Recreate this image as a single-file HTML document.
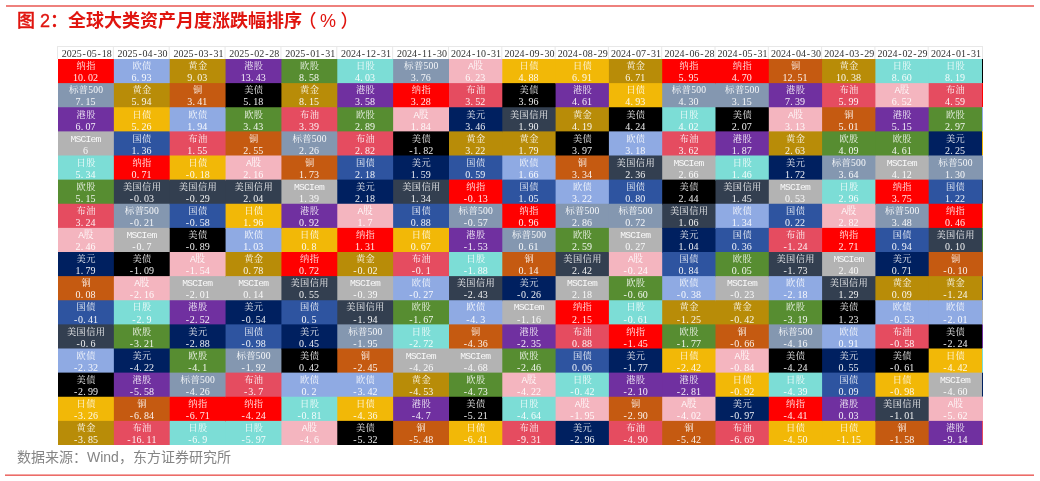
<!DOCTYPE html>
<html lang="zh"><head><meta charset="utf-8"><title>图 2：全球大类资产月度涨跌幅排序（%）</title>
<style>
html,body{margin:0;padding:0;background:#fff;}
body{width:1040px;height:481px;position:relative;overflow:hidden;font-family:"Liberation Sans","Noto Sans CJK SC",sans-serif;}
#title{position:absolute;left:17px;top:9px;height:24px;line-height:24px;font-size:18px;color:#e0150f;white-space:nowrap;font-weight:500;}
#title b{font-weight:700;}
#title .p0{-webkit-text-stroke:0.35px #e0150f;}
#title .p1{margin-left:-3.5px;margin-right:3.5px;}
#title .p2{margin-left:4.5px;}
#src{position:absolute;left:17px;top:447px;height:20px;line-height:20px;font-size:14px;color:#858585;white-space:nowrap;}
#bg{position:absolute;left:0;top:0;}
#bg text{font-family:"Liberation Serif","Noto Serif CJK SC",serif;font-size:10px;fill:#fff;fill-opacity:0.92;text-anchor:middle;}
#bg text.n{font-size:9.2px;}
#bg text.n5{font-size:9.6px;}
#bg text.m{font-family:"Liberation Mono","Noto Serif CJK SC",monospace;font-size:9.7px;}
#bg text.h{fill:#333;fill-opacity:1;}
</style></head><body>
<div id="title"><span class="p0">图 2：</span><b>全球大类资产月度涨跌幅排序</b><span class="p1">（</span>%<span class="p2">）</span></div>

<svg id="bg" width="1040" height="481" viewBox="0 0 1040 481">
<rect x="57" y="46" width="926" height="1" fill="#e8e8e8"/>
<rect x="57" y="46" width="1" height="13" fill="#e8e8e8"/>
<rect x="112.86" y="46" width="1" height="13" fill="#e8e8e8"/>
<rect x="168.71" y="46" width="1" height="13" fill="#e8e8e8"/>
<rect x="224.57" y="46" width="1" height="13" fill="#e8e8e8"/>
<rect x="280.43" y="46" width="1" height="13" fill="#e8e8e8"/>
<rect x="336.29" y="46" width="1" height="13" fill="#e8e8e8"/>
<rect x="392.14" y="46" width="1" height="13" fill="#e8e8e8"/>
<rect x="448.00" y="46" width="1" height="13" fill="#e8e8e8"/>
<rect x="501.30" y="46" width="1" height="13" fill="#e8e8e8"/>
<rect x="554.60" y="46" width="1" height="13" fill="#e8e8e8"/>
<rect x="607.90" y="46" width="1" height="13" fill="#e8e8e8"/>
<rect x="661.20" y="46" width="1" height="13" fill="#e8e8e8"/>
<rect x="714.50" y="46" width="1" height="13" fill="#e8e8e8"/>
<rect x="767.80" y="46" width="1" height="13" fill="#e8e8e8"/>
<rect x="821.10" y="46" width="1" height="13" fill="#e8e8e8"/>
<rect x="874.40" y="46" width="1" height="13" fill="#e8e8e8"/>
<rect x="927.70" y="46" width="1" height="13" fill="#e8e8e8"/>
<rect x="982.00" y="46" width="1" height="13" fill="#e8e8e8"/>
<rect x="58.00" y="59.00" width="56.86" height="25.12" fill="#FF0000"/>
<rect x="58.00" y="83.12" width="56.86" height="25.12" fill="#8497B0"/>
<rect x="58.00" y="107.25" width="56.86" height="25.12" fill="#7030A0"/>
<rect x="58.00" y="131.38" width="56.86" height="25.12" fill="#B3B3B3"/>
<rect x="58.00" y="155.50" width="56.86" height="25.12" fill="#7CDDD6"/>
<rect x="58.00" y="179.62" width="56.86" height="25.12" fill="#578D31"/>
<rect x="58.00" y="203.75" width="56.86" height="25.12" fill="#E54C60"/>
<rect x="58.00" y="227.88" width="56.86" height="25.12" fill="#F4B5BF"/>
<rect x="58.00" y="252.00" width="56.86" height="25.12" fill="#002060"/>
<rect x="58.00" y="276.12" width="56.86" height="25.12" fill="#C55A11"/>
<rect x="58.00" y="300.25" width="56.86" height="25.12" fill="#2E54A0"/>
<rect x="58.00" y="324.38" width="56.86" height="25.12" fill="#333F50"/>
<rect x="58.00" y="348.50" width="56.86" height="25.12" fill="#8FAAE3"/>
<rect x="58.00" y="372.62" width="56.86" height="25.12" fill="#000000"/>
<rect x="58.00" y="396.75" width="56.86" height="25.12" fill="#F2B807"/>
<rect x="58.00" y="420.88" width="56.86" height="24.12" fill="#B88C08"/>
<rect x="113.86" y="59.00" width="56.86" height="25.12" fill="#8FAAE3"/>
<rect x="113.86" y="83.12" width="56.86" height="25.12" fill="#B88C08"/>
<rect x="113.86" y="107.25" width="56.86" height="25.12" fill="#F2B807"/>
<rect x="113.86" y="131.38" width="56.86" height="25.12" fill="#2E54A0"/>
<rect x="113.86" y="155.50" width="56.86" height="25.12" fill="#FF0000"/>
<rect x="113.86" y="179.62" width="56.86" height="25.12" fill="#333F50"/>
<rect x="113.86" y="203.75" width="56.86" height="25.12" fill="#8497B0"/>
<rect x="113.86" y="227.88" width="56.86" height="25.12" fill="#B3B3B3"/>
<rect x="113.86" y="252.00" width="56.86" height="25.12" fill="#000000"/>
<rect x="113.86" y="276.12" width="56.86" height="25.12" fill="#F4B5BF"/>
<rect x="113.86" y="300.25" width="56.86" height="25.12" fill="#7CDDD6"/>
<rect x="113.86" y="324.38" width="56.86" height="25.12" fill="#578D31"/>
<rect x="113.86" y="348.50" width="56.86" height="25.12" fill="#002060"/>
<rect x="113.86" y="372.62" width="56.86" height="25.12" fill="#7030A0"/>
<rect x="113.86" y="396.75" width="56.86" height="25.12" fill="#C55A11"/>
<rect x="113.86" y="420.88" width="56.86" height="24.12" fill="#E54C60"/>
<rect x="169.71" y="59.00" width="56.86" height="25.12" fill="#B88C08"/>
<rect x="169.71" y="83.12" width="56.86" height="25.12" fill="#C55A11"/>
<rect x="169.71" y="107.25" width="56.86" height="25.12" fill="#8FAAE3"/>
<rect x="169.71" y="131.38" width="56.86" height="25.12" fill="#E54C60"/>
<rect x="169.71" y="155.50" width="56.86" height="25.12" fill="#F2B807"/>
<rect x="169.71" y="179.62" width="56.86" height="25.12" fill="#333F50"/>
<rect x="169.71" y="203.75" width="56.86" height="25.12" fill="#2E54A0"/>
<rect x="169.71" y="227.88" width="56.86" height="25.12" fill="#000000"/>
<rect x="169.71" y="252.00" width="56.86" height="25.12" fill="#F4B5BF"/>
<rect x="169.71" y="276.12" width="56.86" height="25.12" fill="#B3B3B3"/>
<rect x="169.71" y="300.25" width="56.86" height="25.12" fill="#7030A0"/>
<rect x="169.71" y="324.38" width="56.86" height="25.12" fill="#002060"/>
<rect x="169.71" y="348.50" width="56.86" height="25.12" fill="#578D31"/>
<rect x="169.71" y="372.62" width="56.86" height="25.12" fill="#8497B0"/>
<rect x="169.71" y="396.75" width="56.86" height="25.12" fill="#FF0000"/>
<rect x="169.71" y="420.88" width="56.86" height="24.12" fill="#7CDDD6"/>
<rect x="225.57" y="59.00" width="56.86" height="25.12" fill="#7030A0"/>
<rect x="225.57" y="83.12" width="56.86" height="25.12" fill="#000000"/>
<rect x="225.57" y="107.25" width="56.86" height="25.12" fill="#578D31"/>
<rect x="225.57" y="131.38" width="56.86" height="25.12" fill="#C55A11"/>
<rect x="225.57" y="155.50" width="56.86" height="25.12" fill="#F4B5BF"/>
<rect x="225.57" y="179.62" width="56.86" height="25.12" fill="#333F50"/>
<rect x="225.57" y="203.75" width="56.86" height="25.12" fill="#F2B807"/>
<rect x="225.57" y="227.88" width="56.86" height="25.12" fill="#8FAAE3"/>
<rect x="225.57" y="252.00" width="56.86" height="25.12" fill="#B88C08"/>
<rect x="225.57" y="276.12" width="56.86" height="25.12" fill="#B3B3B3"/>
<rect x="225.57" y="300.25" width="56.86" height="25.12" fill="#002060"/>
<rect x="225.57" y="324.38" width="56.86" height="25.12" fill="#2E54A0"/>
<rect x="225.57" y="348.50" width="56.86" height="25.12" fill="#8497B0"/>
<rect x="225.57" y="372.62" width="56.86" height="25.12" fill="#E54C60"/>
<rect x="225.57" y="396.75" width="56.86" height="25.12" fill="#FF0000"/>
<rect x="225.57" y="420.88" width="56.86" height="24.12" fill="#7CDDD6"/>
<rect x="281.43" y="59.00" width="56.86" height="25.12" fill="#578D31"/>
<rect x="281.43" y="83.12" width="56.86" height="25.12" fill="#B88C08"/>
<rect x="281.43" y="107.25" width="56.86" height="25.12" fill="#E54C60"/>
<rect x="281.43" y="131.38" width="56.86" height="25.12" fill="#8497B0"/>
<rect x="281.43" y="155.50" width="56.86" height="25.12" fill="#C55A11"/>
<rect x="281.43" y="179.62" width="56.86" height="25.12" fill="#B3B3B3"/>
<rect x="281.43" y="203.75" width="56.86" height="25.12" fill="#7030A0"/>
<rect x="281.43" y="227.88" width="56.86" height="25.12" fill="#F2B807"/>
<rect x="281.43" y="252.00" width="56.86" height="25.12" fill="#FF0000"/>
<rect x="281.43" y="276.12" width="56.86" height="25.12" fill="#333F50"/>
<rect x="281.43" y="300.25" width="56.86" height="25.12" fill="#2E54A0"/>
<rect x="281.43" y="324.38" width="56.86" height="25.12" fill="#002060"/>
<rect x="281.43" y="348.50" width="56.86" height="25.12" fill="#000000"/>
<rect x="281.43" y="372.62" width="56.86" height="25.12" fill="#8FAAE3"/>
<rect x="281.43" y="396.75" width="56.86" height="25.12" fill="#7CDDD6"/>
<rect x="281.43" y="420.88" width="56.86" height="24.12" fill="#F4B5BF"/>
<rect x="337.29" y="59.00" width="56.86" height="25.12" fill="#7CDDD6"/>
<rect x="337.29" y="83.12" width="56.86" height="25.12" fill="#7030A0"/>
<rect x="337.29" y="107.25" width="56.86" height="25.12" fill="#578D31"/>
<rect x="337.29" y="131.38" width="56.86" height="25.12" fill="#E54C60"/>
<rect x="337.29" y="155.50" width="56.86" height="25.12" fill="#2E54A0"/>
<rect x="337.29" y="179.62" width="56.86" height="25.12" fill="#002060"/>
<rect x="337.29" y="203.75" width="56.86" height="25.12" fill="#F4B5BF"/>
<rect x="337.29" y="227.88" width="56.86" height="25.12" fill="#FF0000"/>
<rect x="337.29" y="252.00" width="56.86" height="25.12" fill="#B88C08"/>
<rect x="337.29" y="276.12" width="56.86" height="25.12" fill="#B3B3B3"/>
<rect x="337.29" y="300.25" width="56.86" height="25.12" fill="#333F50"/>
<rect x="337.29" y="324.38" width="56.86" height="25.12" fill="#8497B0"/>
<rect x="337.29" y="348.50" width="56.86" height="25.12" fill="#C55A11"/>
<rect x="337.29" y="372.62" width="56.86" height="25.12" fill="#8FAAE3"/>
<rect x="337.29" y="396.75" width="56.86" height="25.12" fill="#F2B807"/>
<rect x="337.29" y="420.88" width="56.86" height="24.12" fill="#000000"/>
<rect x="393.14" y="59.00" width="56.86" height="25.12" fill="#8497B0"/>
<rect x="393.14" y="83.12" width="56.86" height="25.12" fill="#FF0000"/>
<rect x="393.14" y="107.25" width="56.86" height="25.12" fill="#F4B5BF"/>
<rect x="393.14" y="131.38" width="56.86" height="25.12" fill="#000000"/>
<rect x="393.14" y="155.50" width="56.86" height="25.12" fill="#002060"/>
<rect x="393.14" y="179.62" width="56.86" height="25.12" fill="#333F50"/>
<rect x="393.14" y="203.75" width="56.86" height="25.12" fill="#2E54A0"/>
<rect x="393.14" y="227.88" width="56.86" height="25.12" fill="#F2B807"/>
<rect x="393.14" y="252.00" width="56.86" height="25.12" fill="#E54C60"/>
<rect x="393.14" y="276.12" width="56.86" height="25.12" fill="#8FAAE3"/>
<rect x="393.14" y="300.25" width="56.86" height="25.12" fill="#578D31"/>
<rect x="393.14" y="324.38" width="56.86" height="25.12" fill="#7CDDD6"/>
<rect x="393.14" y="348.50" width="56.86" height="25.12" fill="#B3B3B3"/>
<rect x="393.14" y="372.62" width="56.86" height="25.12" fill="#B88C08"/>
<rect x="393.14" y="396.75" width="56.86" height="25.12" fill="#7030A0"/>
<rect x="393.14" y="420.88" width="56.86" height="24.12" fill="#C55A11"/>
<rect x="449.00" y="59.00" width="54.30" height="25.12" fill="#F4B5BF"/>
<rect x="449.00" y="83.12" width="54.30" height="25.12" fill="#E54C60"/>
<rect x="449.00" y="107.25" width="54.30" height="25.12" fill="#002060"/>
<rect x="449.00" y="131.38" width="54.30" height="25.12" fill="#B88C08"/>
<rect x="449.00" y="155.50" width="54.30" height="25.12" fill="#2E54A0"/>
<rect x="449.00" y="179.62" width="54.30" height="25.12" fill="#FF0000"/>
<rect x="449.00" y="203.75" width="54.30" height="25.12" fill="#8497B0"/>
<rect x="449.00" y="227.88" width="54.30" height="25.12" fill="#7030A0"/>
<rect x="449.00" y="252.00" width="54.30" height="25.12" fill="#7CDDD6"/>
<rect x="449.00" y="276.12" width="54.30" height="25.12" fill="#333F50"/>
<rect x="449.00" y="300.25" width="54.30" height="25.12" fill="#8FAAE3"/>
<rect x="449.00" y="324.38" width="54.30" height="25.12" fill="#C55A11"/>
<rect x="449.00" y="348.50" width="54.30" height="25.12" fill="#B3B3B3"/>
<rect x="449.00" y="372.62" width="54.30" height="25.12" fill="#578D31"/>
<rect x="449.00" y="396.75" width="54.30" height="25.12" fill="#000000"/>
<rect x="449.00" y="420.88" width="54.30" height="24.12" fill="#F2B807"/>
<rect x="502.30" y="59.00" width="54.30" height="25.12" fill="#F2B807"/>
<rect x="502.30" y="83.12" width="54.30" height="25.12" fill="#000000"/>
<rect x="502.30" y="107.25" width="54.30" height="25.12" fill="#333F50"/>
<rect x="502.30" y="131.38" width="54.30" height="25.12" fill="#B88C08"/>
<rect x="502.30" y="155.50" width="54.30" height="25.12" fill="#8FAAE3"/>
<rect x="502.30" y="179.62" width="54.30" height="25.12" fill="#2E54A0"/>
<rect x="502.30" y="203.75" width="54.30" height="25.12" fill="#FF0000"/>
<rect x="502.30" y="227.88" width="54.30" height="25.12" fill="#8497B0"/>
<rect x="502.30" y="252.00" width="54.30" height="25.12" fill="#C55A11"/>
<rect x="502.30" y="276.12" width="54.30" height="25.12" fill="#002060"/>
<rect x="502.30" y="300.25" width="54.30" height="25.12" fill="#B3B3B3"/>
<rect x="502.30" y="324.38" width="54.30" height="25.12" fill="#7030A0"/>
<rect x="502.30" y="348.50" width="54.30" height="25.12" fill="#578D31"/>
<rect x="502.30" y="372.62" width="54.30" height="25.12" fill="#F4B5BF"/>
<rect x="502.30" y="396.75" width="54.30" height="25.12" fill="#7CDDD6"/>
<rect x="502.30" y="420.88" width="54.30" height="24.12" fill="#E54C60"/>
<rect x="555.60" y="59.00" width="54.30" height="25.12" fill="#F2B807"/>
<rect x="555.60" y="83.12" width="54.30" height="25.12" fill="#7030A0"/>
<rect x="555.60" y="107.25" width="54.30" height="25.12" fill="#B88C08"/>
<rect x="555.60" y="131.38" width="54.30" height="25.12" fill="#000000"/>
<rect x="555.60" y="155.50" width="54.30" height="25.12" fill="#C55A11"/>
<rect x="555.60" y="179.62" width="54.30" height="25.12" fill="#8FAAE3"/>
<rect x="555.60" y="203.75" width="54.30" height="25.12" fill="#8497B0"/>
<rect x="555.60" y="227.88" width="54.30" height="25.12" fill="#578D31"/>
<rect x="555.60" y="252.00" width="54.30" height="25.12" fill="#333F50"/>
<rect x="555.60" y="276.12" width="54.30" height="25.12" fill="#B3B3B3"/>
<rect x="555.60" y="300.25" width="54.30" height="25.12" fill="#FF0000"/>
<rect x="555.60" y="324.38" width="54.30" height="25.12" fill="#E54C60"/>
<rect x="555.60" y="348.50" width="54.30" height="25.12" fill="#2E54A0"/>
<rect x="555.60" y="372.62" width="54.30" height="25.12" fill="#7CDDD6"/>
<rect x="555.60" y="396.75" width="54.30" height="25.12" fill="#F4B5BF"/>
<rect x="555.60" y="420.88" width="54.30" height="24.12" fill="#002060"/>
<rect x="608.90" y="59.00" width="54.30" height="25.12" fill="#B88C08"/>
<rect x="608.90" y="83.12" width="54.30" height="25.12" fill="#F2B807"/>
<rect x="608.90" y="107.25" width="54.30" height="25.12" fill="#000000"/>
<rect x="608.90" y="131.38" width="54.30" height="25.12" fill="#8FAAE3"/>
<rect x="608.90" y="155.50" width="54.30" height="25.12" fill="#333F50"/>
<rect x="608.90" y="179.62" width="54.30" height="25.12" fill="#2E54A0"/>
<rect x="608.90" y="203.75" width="54.30" height="25.12" fill="#8497B0"/>
<rect x="608.90" y="227.88" width="54.30" height="25.12" fill="#B3B3B3"/>
<rect x="608.90" y="252.00" width="54.30" height="25.12" fill="#F4B5BF"/>
<rect x="608.90" y="276.12" width="54.30" height="25.12" fill="#578D31"/>
<rect x="608.90" y="300.25" width="54.30" height="25.12" fill="#7CDDD6"/>
<rect x="608.90" y="324.38" width="54.30" height="25.12" fill="#FF0000"/>
<rect x="608.90" y="348.50" width="54.30" height="25.12" fill="#002060"/>
<rect x="608.90" y="372.62" width="54.30" height="25.12" fill="#7030A0"/>
<rect x="608.90" y="396.75" width="54.30" height="25.12" fill="#C55A11"/>
<rect x="608.90" y="420.88" width="54.30" height="24.12" fill="#E54C60"/>
<rect x="662.20" y="59.00" width="54.30" height="25.12" fill="#FF0000"/>
<rect x="662.20" y="83.12" width="54.30" height="25.12" fill="#8497B0"/>
<rect x="662.20" y="107.25" width="54.30" height="25.12" fill="#7CDDD6"/>
<rect x="662.20" y="131.38" width="54.30" height="25.12" fill="#E54C60"/>
<rect x="662.20" y="155.50" width="54.30" height="25.12" fill="#B3B3B3"/>
<rect x="662.20" y="179.62" width="54.30" height="25.12" fill="#000000"/>
<rect x="662.20" y="203.75" width="54.30" height="25.12" fill="#333F50"/>
<rect x="662.20" y="227.88" width="54.30" height="25.12" fill="#002060"/>
<rect x="662.20" y="252.00" width="54.30" height="25.12" fill="#2E54A0"/>
<rect x="662.20" y="276.12" width="54.30" height="25.12" fill="#8FAAE3"/>
<rect x="662.20" y="300.25" width="54.30" height="25.12" fill="#B88C08"/>
<rect x="662.20" y="324.38" width="54.30" height="25.12" fill="#578D31"/>
<rect x="662.20" y="348.50" width="54.30" height="25.12" fill="#F2B807"/>
<rect x="662.20" y="372.62" width="54.30" height="25.12" fill="#7030A0"/>
<rect x="662.20" y="396.75" width="54.30" height="25.12" fill="#F4B5BF"/>
<rect x="662.20" y="420.88" width="54.30" height="24.12" fill="#C55A11"/>
<rect x="715.50" y="59.00" width="54.30" height="25.12" fill="#FF0000"/>
<rect x="715.50" y="83.12" width="54.30" height="25.12" fill="#8497B0"/>
<rect x="715.50" y="107.25" width="54.30" height="25.12" fill="#000000"/>
<rect x="715.50" y="131.38" width="54.30" height="25.12" fill="#7030A0"/>
<rect x="715.50" y="155.50" width="54.30" height="25.12" fill="#7CDDD6"/>
<rect x="715.50" y="179.62" width="54.30" height="25.12" fill="#333F50"/>
<rect x="715.50" y="203.75" width="54.30" height="25.12" fill="#8FAAE3"/>
<rect x="715.50" y="227.88" width="54.30" height="25.12" fill="#2E54A0"/>
<rect x="715.50" y="252.00" width="54.30" height="25.12" fill="#578D31"/>
<rect x="715.50" y="276.12" width="54.30" height="25.12" fill="#B3B3B3"/>
<rect x="715.50" y="300.25" width="54.30" height="25.12" fill="#B88C08"/>
<rect x="715.50" y="324.38" width="54.30" height="25.12" fill="#C55A11"/>
<rect x="715.50" y="348.50" width="54.30" height="25.12" fill="#F4B5BF"/>
<rect x="715.50" y="372.62" width="54.30" height="25.12" fill="#F2B807"/>
<rect x="715.50" y="396.75" width="54.30" height="25.12" fill="#002060"/>
<rect x="715.50" y="420.88" width="54.30" height="24.12" fill="#E54C60"/>
<rect x="768.80" y="59.00" width="54.30" height="25.12" fill="#C55A11"/>
<rect x="768.80" y="83.12" width="54.30" height="25.12" fill="#7030A0"/>
<rect x="768.80" y="107.25" width="54.30" height="25.12" fill="#F4B5BF"/>
<rect x="768.80" y="131.38" width="54.30" height="25.12" fill="#B88C08"/>
<rect x="768.80" y="155.50" width="54.30" height="25.12" fill="#002060"/>
<rect x="768.80" y="179.62" width="54.30" height="25.12" fill="#B3B3B3"/>
<rect x="768.80" y="203.75" width="54.30" height="25.12" fill="#2E54A0"/>
<rect x="768.80" y="227.88" width="54.30" height="25.12" fill="#E54C60"/>
<rect x="768.80" y="252.00" width="54.30" height="25.12" fill="#333F50"/>
<rect x="768.80" y="276.12" width="54.30" height="25.12" fill="#8FAAE3"/>
<rect x="768.80" y="300.25" width="54.30" height="25.12" fill="#578D31"/>
<rect x="768.80" y="324.38" width="54.30" height="25.12" fill="#8497B0"/>
<rect x="768.80" y="348.50" width="54.30" height="25.12" fill="#000000"/>
<rect x="768.80" y="372.62" width="54.30" height="25.12" fill="#7CDDD6"/>
<rect x="768.80" y="396.75" width="54.30" height="25.12" fill="#FF0000"/>
<rect x="768.80" y="420.88" width="54.30" height="24.12" fill="#F2B807"/>
<rect x="822.10" y="59.00" width="54.30" height="25.12" fill="#B88C08"/>
<rect x="822.10" y="83.12" width="54.30" height="25.12" fill="#E54C60"/>
<rect x="822.10" y="107.25" width="54.30" height="25.12" fill="#C55A11"/>
<rect x="822.10" y="131.38" width="54.30" height="25.12" fill="#578D31"/>
<rect x="822.10" y="155.50" width="54.30" height="25.12" fill="#8497B0"/>
<rect x="822.10" y="179.62" width="54.30" height="25.12" fill="#7CDDD6"/>
<rect x="822.10" y="203.75" width="54.30" height="25.12" fill="#F4B5BF"/>
<rect x="822.10" y="227.88" width="54.30" height="25.12" fill="#FF0000"/>
<rect x="822.10" y="252.00" width="54.30" height="25.12" fill="#B3B3B3"/>
<rect x="822.10" y="276.12" width="54.30" height="25.12" fill="#333F50"/>
<rect x="822.10" y="300.25" width="54.30" height="25.12" fill="#000000"/>
<rect x="822.10" y="324.38" width="54.30" height="25.12" fill="#8FAAE3"/>
<rect x="822.10" y="348.50" width="54.30" height="25.12" fill="#002060"/>
<rect x="822.10" y="372.62" width="54.30" height="25.12" fill="#2E54A0"/>
<rect x="822.10" y="396.75" width="54.30" height="25.12" fill="#7030A0"/>
<rect x="822.10" y="420.88" width="54.30" height="24.12" fill="#F2B807"/>
<rect x="875.40" y="59.00" width="54.30" height="25.12" fill="#7CDDD6"/>
<rect x="875.40" y="83.12" width="54.30" height="25.12" fill="#F4B5BF"/>
<rect x="875.40" y="107.25" width="54.30" height="25.12" fill="#7030A0"/>
<rect x="875.40" y="131.38" width="54.30" height="25.12" fill="#578D31"/>
<rect x="875.40" y="155.50" width="54.30" height="25.12" fill="#B3B3B3"/>
<rect x="875.40" y="179.62" width="54.30" height="25.12" fill="#FF0000"/>
<rect x="875.40" y="203.75" width="54.30" height="25.12" fill="#8497B0"/>
<rect x="875.40" y="227.88" width="54.30" height="25.12" fill="#2E54A0"/>
<rect x="875.40" y="252.00" width="54.30" height="25.12" fill="#002060"/>
<rect x="875.40" y="276.12" width="54.30" height="25.12" fill="#B88C08"/>
<rect x="875.40" y="300.25" width="54.30" height="25.12" fill="#8FAAE3"/>
<rect x="875.40" y="324.38" width="54.30" height="25.12" fill="#E54C60"/>
<rect x="875.40" y="348.50" width="54.30" height="25.12" fill="#000000"/>
<rect x="875.40" y="372.62" width="54.30" height="25.12" fill="#F2B807"/>
<rect x="875.40" y="396.75" width="54.30" height="25.12" fill="#333F50"/>
<rect x="875.40" y="420.88" width="54.30" height="24.12" fill="#C55A11"/>
<rect x="928.70" y="59.00" width="53.30" height="25.12" fill="#7CDDD6"/>
<rect x="928.70" y="83.12" width="53.30" height="25.12" fill="#E54C60"/>
<rect x="928.70" y="107.25" width="53.30" height="25.12" fill="#578D31"/>
<rect x="928.70" y="131.38" width="53.30" height="25.12" fill="#002060"/>
<rect x="928.70" y="155.50" width="53.30" height="25.12" fill="#8497B0"/>
<rect x="928.70" y="179.62" width="53.30" height="25.12" fill="#2E54A0"/>
<rect x="928.70" y="203.75" width="53.30" height="25.12" fill="#FF0000"/>
<rect x="928.70" y="227.88" width="53.30" height="25.12" fill="#333F50"/>
<rect x="928.70" y="252.00" width="53.30" height="25.12" fill="#C55A11"/>
<rect x="928.70" y="276.12" width="53.30" height="25.12" fill="#B88C08"/>
<rect x="928.70" y="300.25" width="53.30" height="25.12" fill="#8FAAE3"/>
<rect x="928.70" y="324.38" width="53.30" height="25.12" fill="#000000"/>
<rect x="928.70" y="348.50" width="53.30" height="25.12" fill="#F2B807"/>
<rect x="928.70" y="372.62" width="53.30" height="25.12" fill="#B3B3B3"/>
<rect x="928.70" y="396.75" width="53.30" height="25.12" fill="#F4B5BF"/>
<rect x="928.70" y="420.88" width="53.30" height="24.12" fill="#7030A0"/>
<rect x="982.00" y="59.00" width="1.00" height="24.12" fill="#000000"/>
<rect x="982.00" y="83.12" width="1.00" height="24.12" fill="#FF0000"/>
<rect x="982.00" y="107.25" width="1.00" height="24.12" fill="#8FAAE3"/>
<rect x="982.00" y="131.38" width="1.00" height="24.12" fill="#F2B807"/>
<rect x="982.00" y="155.50" width="1.00" height="24.12" fill="#8497B0"/>
<rect x="982.00" y="179.62" width="1.00" height="24.12" fill="#333F50"/>
<rect x="982.00" y="203.75" width="1.00" height="24.12" fill="#B88C08"/>
<rect x="982.00" y="227.88" width="1.00" height="24.12" fill="#578D31"/>
<rect x="982.00" y="252.00" width="1.00" height="24.12" fill="#C55A11"/>
<rect x="982.00" y="276.12" width="1.00" height="24.12" fill="#2E54A0"/>
<rect x="982.00" y="300.25" width="1.00" height="24.12" fill="#B3B3B3"/>
<rect x="982.00" y="324.38" width="1.00" height="24.12" fill="#7030A0"/>
<rect x="982.00" y="348.50" width="1.00" height="24.12" fill="#7CDDD6"/>
<rect x="982.00" y="372.62" width="1.00" height="24.12" fill="#002060"/>
<rect x="982.00" y="396.75" width="1.00" height="24.12" fill="#F4B5BF"/>
<rect x="982.00" y="420.88" width="1.00" height="24.12" fill="#E54C60"/>
<rect x="6" y="5.15" width="1028" height="1.7" fill="#EC6C68"/>
<rect x="5" y="474.4" width="1029" height="1.6" fill="#EC6C68"/>
<text class="h" y="56.9" x="64.2 69.2 74.2 79.2 84.2 89.2 94.2 99.2 104.2 109.2">2025-05-18</text>
<text class="h" y="56.9" x="120.1 125.1 130.1 135.1 140.1 145.1 150.1 155.1 160.1 165.1">2025-04-30</text>
<text class="h" y="56.9" x="175.9 180.9 185.9 190.9 195.9 200.9 205.9 210.9 215.9 220.9">2025-03-31</text>
<text class="h" y="56.9" x="231.8 236.8 241.8 246.8 251.8 256.8 261.8 266.8 271.8 276.8">2025-02-28</text>
<text class="h" y="56.9" x="287.7 292.7 297.7 302.7 307.7 312.7 317.7 322.7 327.7 332.7">2025-01-31</text>
<text class="h" y="56.9" x="343.5 348.5 353.5 358.5 363.5 368.5 373.5 378.5 383.5 388.5">2024-12-31</text>
<text class="h" y="56.9" x="399.4 404.4 409.4 414.4 419.4 424.4 429.4 434.4 439.4 444.4">2024-11-30</text>
<text class="h" y="56.9" x="453.6 458.6 463.6 468.6 473.6 478.6 483.6 488.6 493.6 498.6">2024-10-31</text>
<text class="h" y="56.9" x="507.0 512.0 517.0 522.0 527.0 532.0 537.0 542.0 547.0 552.0">2024-09-30</text>
<text class="h" y="56.9" x="560.2 565.2 570.2 575.2 580.2 585.2 590.2 595.2 600.2 605.2">2024-08-29</text>
<text class="h" y="56.9" x="613.5 618.5 623.5 628.5 633.5 638.5 643.5 648.5 653.5 658.5">2024-07-31</text>
<text class="h" y="56.9" x="666.9 671.9 676.9 681.9 686.9 691.9 696.9 701.9 706.9 711.9">2024-06-28</text>
<text class="h" y="56.9" x="720.1 725.1 730.1 735.1 740.1 745.1 750.1 755.1 760.1 765.1">2024-05-31</text>
<text class="h" y="56.9" x="773.4 778.4 783.4 788.4 793.4 798.4 803.4 808.4 813.4 818.4">2024-04-30</text>
<text class="h" y="56.9" x="826.8 831.8 836.8 841.8 846.8 851.8 856.8 861.8 866.8 871.8">2024-03-29</text>
<text class="h" y="56.9" x="880.0 885.0 890.0 895.0 900.0 905.0 910.0 915.0 920.0 925.0">2024-02-29</text>
<text class="h" y="56.9" x="933.4 938.4 943.4 948.4 953.4 958.4 963.4 968.4 973.4 978.4">2024-01-31</text>
<text class="n" y="69.2" x="81.2 90.8">纳指</text><text y="81.3" x="75.6 80.6 84.6 90.6 95.6">10.02</text>
<text class="n5" y="93.3" x="73.7 83.3 90.6 95.6 100.6">标普500</text><text y="105.4" x="78.1 82.1 88.1 93.1">7.15</text>
<text class="n" y="117.5" x="81.2 90.8">港股</text><text y="129.6" x="78.1 82.1 88.1 93.1">6.07</text>
<text class="m" y="141.6" x="73.5 78.5 83.5 88.5 93.5 98.5">MSCIem</text><text y="153.7" x="85.6">6</text>
<text class="n" y="165.7" x="81.2 90.8">日股</text><text y="177.8" x="78.1 82.1 88.1 93.1">5.34</text>
<text class="n" y="189.8" x="81.2 90.8">欧股</text><text y="201.9" x="78.1 82.1 88.1 93.1">5.15</text>
<text class="n" y="213.9" x="81.2 90.8">布油</text><text y="226.1" x="78.1 82.1 88.1 93.1">3.24</text>
<text class="m" y="238.1" x="81.2 88.5">A股</text><text y="250.2" x="78.1 82.1 88.1 93.1">2.46</text>
<text class="n" y="262.2" x="81.2 90.8">美元</text><text y="274.3" x="78.1 82.1 88.1 93.1">1.79</text>
<text class="n" y="286.3" x="86.0">铜</text><text y="298.4" x="78.1 82.1 88.1 93.1">0.08</text>
<text class="n" y="310.4" x="81.2 90.8">国债</text><text y="322.6" x="75.6 80.6 84.6 90.6 95.6">-0.41</text>
<text class="n" y="334.6" x="71.6 81.2 90.8 100.4">美国信用</text><text y="346.7" x="78.1 83.1 87.1 93.1">-0.6</text>
<text class="n" y="358.7" x="81.2 90.8">欧债</text><text y="370.8" x="75.6 80.6 84.6 90.6 95.6">-2.32</text>
<text class="n" y="382.8" x="81.2 90.8">美债</text><text y="394.9" x="75.6 80.6 84.6 90.6 95.6">-2.99</text>
<text class="n" y="406.9" x="81.2 90.8">日债</text><text y="419.1" x="75.6 80.6 84.6 90.6 95.6">-3.26</text>
<text class="n" y="431.1" x="81.2 90.8">黄金</text><text y="443.2" x="75.6 80.6 84.6 90.6 95.6">-3.85</text>
<text class="n" y="69.2" x="137.1 146.7">欧债</text><text y="81.3" x="134.0 138.0 144.0 149.0">6.93</text>
<text class="n" y="93.3" x="137.1 146.7">黄金</text><text y="105.4" x="134.0 138.0 144.0 149.0">5.94</text>
<text class="n" y="117.5" x="137.1 146.7">日债</text><text y="129.6" x="134.0 138.0 144.0 149.0">5.26</text>
<text class="n" y="141.6" x="137.1 146.7">国债</text><text y="153.7" x="134.0 138.0 144.0 149.0">1.36</text>
<text class="n" y="165.7" x="137.1 146.7">纳指</text><text y="177.8" x="134.0 138.0 144.0 149.0">0.71</text>
<text class="n" y="189.8" x="127.5 137.1 146.7 156.3">美国信用</text><text y="201.9" x="131.5 136.5 140.5 146.5 151.5">-0.03</text>
<text class="n5" y="213.9" x="129.6 139.2 146.5 151.5 156.5">标普500</text><text y="226.1" x="131.5 136.5 140.5 146.5 151.5">-0.21</text>
<text class="m" y="238.1" x="129.4 134.4 139.4 144.4 149.4 154.4">MSCIem</text><text y="250.2" x="134.0 139.0 143.0 149.0">-0.7</text>
<text class="n" y="262.2" x="137.1 146.7">美债</text><text y="274.3" x="131.5 136.5 140.5 146.5 151.5">-1.09</text>
<text class="m" y="286.3" x="137.1 144.4">A股</text><text y="298.4" x="131.5 136.5 140.5 146.5 151.5">-2.16</text>
<text class="n" y="310.4" x="137.1 146.7">日股</text><text y="322.6" x="134.0 139.0 143.0 149.0">-2.9</text>
<text class="n" y="334.6" x="137.1 146.7">欧股</text><text y="346.7" x="131.5 136.5 140.5 146.5 151.5">-3.21</text>
<text class="n" y="358.7" x="137.1 146.7">美元</text><text y="370.8" x="131.5 136.5 140.5 146.5 151.5">-4.22</text>
<text class="n" y="382.8" x="137.1 146.7">港股</text><text y="394.9" x="131.5 136.5 140.5 146.5 151.5">-5.58</text>
<text class="n" y="406.9" x="141.9">铜</text><text y="419.1" x="131.5 136.5 140.5 146.5 151.5">-6.84</text>
<text class="n" y="431.1" x="137.1 146.7">布油</text><text y="443.2" x="129.0 134.0 139.0 143.0 149.0 154.0">-16.11</text>
<text class="n" y="69.2" x="192.9 202.5">黄金</text><text y="81.3" x="189.8 193.8 199.8 204.8">9.03</text>
<text class="n" y="93.3" x="197.7">铜</text><text y="105.4" x="189.8 193.8 199.8 204.8">3.41</text>
<text class="n" y="117.5" x="192.9 202.5">欧债</text><text y="129.6" x="189.8 193.8 199.8 204.8">1.94</text>
<text class="n" y="141.6" x="192.9 202.5">布油</text><text y="153.7" x="189.8 193.8 199.8 204.8">1.55</text>
<text class="n" y="165.7" x="192.9 202.5">日债</text><text y="177.8" x="187.3 192.3 196.3 202.3 207.3">-0.18</text>
<text class="n" y="189.8" x="183.3 192.9 202.5 212.1">美国信用</text><text y="201.9" x="187.3 192.3 196.3 202.3 207.3">-0.29</text>
<text class="n" y="213.9" x="192.9 202.5">国债</text><text y="226.1" x="187.3 192.3 196.3 202.3 207.3">-0.58</text>
<text class="n" y="238.1" x="192.9 202.5">美债</text><text y="250.2" x="187.3 192.3 196.3 202.3 207.3">-0.89</text>
<text class="m" y="262.2" x="192.9 200.2">A股</text><text y="274.3" x="187.3 192.3 196.3 202.3 207.3">-1.54</text>
<text class="m" y="286.3" x="185.2 190.2 195.2 200.2 205.2 210.2">MSCIem</text><text y="298.4" x="187.3 192.3 196.3 202.3 207.3">-2.01</text>
<text class="n" y="310.4" x="192.9 202.5">港股</text><text y="322.6" x="187.3 192.3 196.3 202.3 207.3">-2.52</text>
<text class="n" y="334.6" x="192.9 202.5">美元</text><text y="346.7" x="187.3 192.3 196.3 202.3 207.3">-2.88</text>
<text class="n" y="358.7" x="192.9 202.5">欧股</text><text y="370.8" x="189.8 194.8 198.8 204.8">-4.1</text>
<text class="n5" y="382.8" x="185.4 195.0 202.3 207.3 212.3">标普500</text><text y="394.9" x="187.3 192.3 196.3 202.3 207.3">-4.26</text>
<text class="n" y="406.9" x="192.9 202.5">纳指</text><text y="419.1" x="187.3 192.3 196.3 202.3 207.3">-6.71</text>
<text class="n" y="431.1" x="192.9 202.5">日股</text><text y="443.2" x="189.8 194.8 198.8 204.8">-6.9</text>
<text class="n" y="69.2" x="248.8 258.4">港股</text><text y="81.3" x="243.2 248.2 252.2 258.2 263.2">13.43</text>
<text class="n" y="93.3" x="248.8 258.4">美债</text><text y="105.4" x="245.7 249.7 255.7 260.7">5.18</text>
<text class="n" y="117.5" x="248.8 258.4">欧股</text><text y="129.6" x="245.7 249.7 255.7 260.7">3.43</text>
<text class="n" y="141.6" x="253.6">铜</text><text y="153.7" x="245.7 249.7 255.7 260.7">2.55</text>
<text class="m" y="165.7" x="248.8 256.1">A股</text><text y="177.8" x="245.7 249.7 255.7 260.7">2.16</text>
<text class="n" y="189.8" x="239.2 248.8 258.4 268.0">美国信用</text><text y="201.9" x="245.7 249.7 255.7 260.7">2.04</text>
<text class="n" y="213.9" x="248.8 258.4">日债</text><text y="226.1" x="245.7 249.7 255.7 260.7">1.96</text>
<text class="n" y="238.1" x="248.8 258.4">欧债</text><text y="250.2" x="245.7 249.7 255.7 260.7">1.03</text>
<text class="n" y="262.2" x="248.8 258.4">黄金</text><text y="274.3" x="245.7 249.7 255.7 260.7">0.78</text>
<text class="m" y="286.3" x="241.1 246.1 251.1 256.1 261.1 266.1">MSCIem</text><text y="298.4" x="245.7 249.7 255.7 260.7">0.14</text>
<text class="n" y="310.4" x="248.8 258.4">美元</text><text y="322.6" x="243.2 248.2 252.2 258.2 263.2">-0.54</text>
<text class="n" y="334.6" x="248.8 258.4">国债</text><text y="346.7" x="243.2 248.2 252.2 258.2 263.2">-0.98</text>
<text class="n5" y="358.7" x="241.3 250.9 258.2 263.2 268.2">标普500</text><text y="370.8" x="243.2 248.2 252.2 258.2 263.2">-1.92</text>
<text class="n" y="382.8" x="248.8 258.4">布油</text><text y="394.9" x="245.7 250.7 254.7 260.7">-3.7</text>
<text class="n" y="406.9" x="248.8 258.4">纳指</text><text y="419.1" x="243.2 248.2 252.2 258.2 263.2">-4.24</text>
<text class="n" y="431.1" x="248.8 258.4">日股</text><text y="443.2" x="243.2 248.2 252.2 258.2 263.2">-5.97</text>
<text class="n" y="69.2" x="304.7 314.3">欧股</text><text y="81.3" x="301.6 305.6 311.6 316.6">8.58</text>
<text class="n" y="93.3" x="304.7 314.3">黄金</text><text y="105.4" x="301.6 305.6 311.6 316.6">8.15</text>
<text class="n" y="117.5" x="304.7 314.3">布油</text><text y="129.6" x="301.6 305.6 311.6 316.6">3.39</text>
<text class="n5" y="141.6" x="297.2 306.8 314.1 319.1 324.1">标普500</text><text y="153.7" x="301.6 305.6 311.6 316.6">2.26</text>
<text class="n" y="165.7" x="309.5">铜</text><text y="177.8" x="301.6 305.6 311.6 316.6">1.73</text>
<text class="m" y="189.8" x="297.0 302.0 307.0 312.0 317.0 322.0">MSCIem</text><text y="201.9" x="301.6 305.6 311.6 316.6">1.39</text>
<text class="n" y="213.9" x="304.7 314.3">港股</text><text y="226.1" x="301.6 305.6 311.6 316.6">0.92</text>
<text class="n" y="238.1" x="304.7 314.3">日债</text><text y="250.2" x="304.1 308.1 314.1">0.8</text>
<text class="n" y="262.2" x="304.7 314.3">纳指</text><text y="274.3" x="301.6 305.6 311.6 316.6">0.72</text>
<text class="n" y="286.3" x="295.1 304.7 314.3 323.9">美国信用</text><text y="298.4" x="301.6 305.6 311.6 316.6">0.55</text>
<text class="n" y="310.4" x="304.7 314.3">国债</text><text y="322.6" x="304.1 308.1 314.1">0.5</text>
<text class="n" y="334.6" x="304.7 314.3">美元</text><text y="346.7" x="301.6 305.6 311.6 316.6">0.45</text>
<text class="n" y="358.7" x="304.7 314.3">美债</text><text y="370.8" x="301.6 305.6 311.6 316.6">0.42</text>
<text class="n" y="382.8" x="304.7 314.3">欧债</text><text y="394.9" x="304.1 308.1 314.1">0.2</text>
<text class="n" y="406.9" x="304.7 314.3">日股</text><text y="419.1" x="299.1 304.1 308.1 314.1 319.1">-0.81</text>
<text class="m" y="431.1" x="304.7 312.0">A股</text><text y="443.2" x="301.6 306.6 310.6 316.6">-4.6</text>
<text class="n" y="69.2" x="360.5 370.1">日股</text><text y="81.3" x="357.4 361.4 367.4 372.4">4.03</text>
<text class="n" y="93.3" x="360.5 370.1">港股</text><text y="105.4" x="357.4 361.4 367.4 372.4">3.58</text>
<text class="n" y="117.5" x="360.5 370.1">欧股</text><text y="129.6" x="357.4 361.4 367.4 372.4">2.89</text>
<text class="n" y="141.6" x="360.5 370.1">布油</text><text y="153.7" x="357.4 361.4 367.4 372.4">2.82</text>
<text class="n" y="165.7" x="360.5 370.1">国债</text><text y="177.8" x="357.4 361.4 367.4 372.4">2.18</text>
<text class="n" y="189.8" x="360.5 370.1">美元</text><text y="201.9" x="357.4 361.4 367.4 372.4">2.18</text>
<text class="m" y="213.9" x="360.5 367.8">A股</text><text y="226.1" x="359.9 363.9 369.9">1.7</text>
<text class="n" y="238.1" x="360.5 370.1">纳指</text><text y="250.2" x="357.4 361.4 367.4 372.4">1.31</text>
<text class="n" y="262.2" x="360.5 370.1">黄金</text><text y="274.3" x="354.9 359.9 363.9 369.9 374.9">-0.02</text>
<text class="m" y="286.3" x="352.8 357.8 362.8 367.8 372.8 377.8">MSCIem</text><text y="298.4" x="354.9 359.9 363.9 369.9 374.9">-0.39</text>
<text class="n" y="310.4" x="350.9 360.5 370.1 379.7">美国信用</text><text y="322.6" x="354.9 359.9 363.9 369.9 374.9">-1.94</text>
<text class="n5" y="334.6" x="353.0 362.6 369.9 374.9 379.9">标普500</text><text y="346.7" x="354.9 359.9 363.9 369.9 374.9">-1.95</text>
<text class="n" y="358.7" x="365.3">铜</text><text y="370.8" x="354.9 359.9 363.9 369.9 374.9">-2.45</text>
<text class="n" y="382.8" x="360.5 370.1">欧债</text><text y="394.9" x="354.9 359.9 363.9 369.9 374.9">-3.42</text>
<text class="n" y="406.9" x="360.5 370.1">日债</text><text y="419.1" x="354.9 359.9 363.9 369.9 374.9">-4.36</text>
<text class="n" y="431.1" x="360.5 370.1">美债</text><text y="443.2" x="354.9 359.9 363.9 369.9 374.9">-5.32</text>
<text class="n5" y="69.2" x="408.9 418.5 425.8 430.8 435.8">标普500</text><text y="81.3" x="413.3 417.3 423.3 428.3">3.76</text>
<text class="n" y="93.3" x="416.4 426.0">纳指</text><text y="105.4" x="413.3 417.3 423.3 428.3">3.28</text>
<text class="m" y="117.5" x="416.4 423.7">A股</text><text y="129.6" x="413.3 417.3 423.3 428.3">1.84</text>
<text class="n" y="141.6" x="416.4 426.0">美债</text><text y="153.7" x="410.8 415.8 419.8 425.8 430.8">-1.82</text>
<text class="n" y="165.7" x="416.4 426.0">美元</text><text y="177.8" x="413.3 417.3 423.3 428.3">1.59</text>
<text class="n" y="189.8" x="406.8 416.4 426.0 435.6">美国信用</text><text y="201.9" x="413.3 417.3 423.3 428.3">1.34</text>
<text class="n" y="213.9" x="416.4 426.0">国债</text><text y="226.1" x="413.3 417.3 423.3 428.3">0.88</text>
<text class="n" y="238.1" x="416.4 426.0">日债</text><text y="250.2" x="413.3 417.3 423.3 428.3">0.67</text>
<text class="n" y="262.2" x="416.4 426.0">布油</text><text y="274.3" x="413.3 418.3 422.3 428.3">-0.1</text>
<text class="n" y="286.3" x="416.4 426.0">欧债</text><text y="298.4" x="410.8 415.8 419.8 425.8 430.8">-0.27</text>
<text class="n" y="310.4" x="416.4 426.0">欧股</text><text y="322.6" x="410.8 415.8 419.8 425.8 430.8">-1.67</text>
<text class="n" y="334.6" x="416.4 426.0">日股</text><text y="346.7" x="410.8 415.8 419.8 425.8 430.8">-2.72</text>
<text class="m" y="358.7" x="408.7 413.7 418.7 423.7 428.7 433.7">MSCIem</text><text y="370.8" x="410.8 415.8 419.8 425.8 430.8">-4.26</text>
<text class="n" y="382.8" x="416.4 426.0">黄金</text><text y="394.9" x="410.8 415.8 419.8 425.8 430.8">-4.53</text>
<text class="n" y="406.9" x="416.4 426.0">港股</text><text y="419.1" x="413.3 418.3 422.3 428.3">-4.7</text>
<text class="n" y="431.1" x="421.2">铜</text><text y="443.2" x="410.8 415.8 419.8 425.8 430.8">-5.48</text>
<text class="m" y="69.2" x="470.9 478.2">A股</text><text y="81.3" x="467.8 471.8 477.8 482.8">6.23</text>
<text class="n" y="93.3" x="470.9 480.5">布油</text><text y="105.4" x="467.8 471.8 477.8 482.8">3.52</text>
<text class="n" y="117.5" x="470.9 480.5">美元</text><text y="129.6" x="467.8 471.8 477.8 482.8">3.46</text>
<text class="n" y="141.6" x="470.9 480.5">黄金</text><text y="153.7" x="467.8 471.8 477.8 482.8">3.22</text>
<text class="n" y="165.7" x="470.9 480.5">国债</text><text y="177.8" x="467.8 471.8 477.8 482.8">0.59</text>
<text class="n" y="189.8" x="470.9 480.5">纳指</text><text y="201.9" x="465.3 470.3 474.3 480.3 485.3">-0.13</text>
<text class="n5" y="213.9" x="463.4 473.0 480.3 485.3 490.3">标普500</text><text y="226.1" x="465.3 470.3 474.3 480.3 485.3">-0.57</text>
<text class="n" y="238.1" x="470.9 480.5">港股</text><text y="250.2" x="465.3 470.3 474.3 480.3 485.3">-1.53</text>
<text class="n" y="262.2" x="470.9 480.5">日股</text><text y="274.3" x="465.3 470.3 474.3 480.3 485.3">-1.88</text>
<text class="n" y="286.3" x="461.3 470.9 480.6 490.2">美国信用</text><text y="298.4" x="465.3 470.3 474.3 480.3 485.3">-2.43</text>
<text class="n" y="310.4" x="470.9 480.5">欧债</text><text y="322.6" x="467.8 472.8 476.8 482.8">-4.3</text>
<text class="n" y="334.6" x="475.7">铜</text><text y="346.7" x="465.3 470.3 474.3 480.3 485.3">-4.36</text>
<text class="m" y="358.7" x="463.2 468.2 473.2 478.2 483.2 488.2">MSCIem</text><text y="370.8" x="465.3 470.3 474.3 480.3 485.3">-4.68</text>
<text class="n" y="382.8" x="470.9 480.5">欧股</text><text y="394.9" x="465.3 470.3 474.3 480.3 485.3">-4.73</text>
<text class="n" y="406.9" x="470.9 480.5">美债</text><text y="419.1" x="465.3 470.3 474.3 480.3 485.3">-5.21</text>
<text class="n" y="431.1" x="470.9 480.5">日债</text><text y="443.2" x="465.3 470.3 474.3 480.3 485.3">-6.41</text>
<text class="n" y="69.2" x="524.2 533.9">日债</text><text y="81.3" x="521.1 525.1 531.1 536.1">4.88</text>
<text class="n" y="93.3" x="524.2 533.9">美债</text><text y="105.4" x="521.1 525.1 531.1 536.1">3.96</text>
<text class="n" y="117.5" x="514.7 524.2 533.9 543.5">美国信用</text><text y="129.6" x="521.1 525.1 531.1 536.1">1.90</text>
<text class="n" y="141.6" x="524.2 533.9">黄金</text><text y="153.7" x="521.1 525.1 531.1 536.1">1.79</text>
<text class="n" y="165.7" x="524.2 533.9">欧债</text><text y="177.8" x="521.1 525.1 531.1 536.1">1.66</text>
<text class="n" y="189.8" x="524.2 533.9">国债</text><text y="201.9" x="521.1 525.1 531.1 536.1">1.05</text>
<text class="n" y="213.9" x="524.2 533.9">纳指</text><text y="226.1" x="521.1 525.1 531.1 536.1">0.96</text>
<text class="n5" y="238.1" x="516.8 526.4 533.7 538.7 543.7">标普500</text><text y="250.2" x="521.1 525.1 531.1 536.1">0.61</text>
<text class="n" y="262.2" x="529.1">铜</text><text y="274.3" x="521.1 525.1 531.1 536.1">0.14</text>
<text class="n" y="286.3" x="524.2 533.9">美元</text><text y="298.4" x="518.6 523.6 527.6 533.6 538.6">-0.26</text>
<text class="m" y="310.4" x="516.6 521.6 526.6 531.6 536.6 541.6">MSCIem</text><text y="322.6" x="518.6 523.6 527.6 533.6 538.6">-1.16</text>
<text class="n" y="334.6" x="524.2 533.9">港股</text><text y="346.7" x="518.6 523.6 527.6 533.6 538.6">-2.35</text>
<text class="n" y="358.7" x="524.2 533.9">欧股</text><text y="370.8" x="518.6 523.6 527.6 533.6 538.6">-2.46</text>
<text class="m" y="382.8" x="524.3 531.6">A股</text><text y="394.9" x="518.6 523.6 527.6 533.6 538.6">-4.22</text>
<text class="n" y="406.9" x="524.2 533.9">日股</text><text y="419.1" x="518.6 523.6 527.6 533.6 538.6">-4.64</text>
<text class="n" y="431.1" x="524.2 533.9">布油</text><text y="443.2" x="518.6 523.6 527.6 533.6 538.6">-9.31</text>
<text class="n" y="69.2" x="577.5 587.1">日债</text><text y="81.3" x="574.4 578.4 584.4 589.4">6.91</text>
<text class="n" y="93.3" x="577.5 587.1">港股</text><text y="105.4" x="574.4 578.4 584.4 589.4">4.61</text>
<text class="n" y="117.5" x="577.5 587.1">黄金</text><text y="129.6" x="574.4 578.4 584.4 589.4">4.19</text>
<text class="n" y="141.6" x="577.5 587.1">美债</text><text y="153.7" x="574.4 578.4 584.4 589.4">3.97</text>
<text class="n" y="165.7" x="582.4">铜</text><text y="177.8" x="574.4 578.4 584.4 589.4">3.34</text>
<text class="n" y="189.8" x="577.5 587.1">欧债</text><text y="201.9" x="574.4 578.4 584.4 589.4">3.22</text>
<text class="n5" y="213.9" x="570.0 579.6 587.0 592.0 597.0">标普500</text><text y="226.1" x="574.4 578.4 584.4 589.4">2.86</text>
<text class="n" y="238.1" x="577.5 587.1">欧股</text><text y="250.2" x="574.4 578.4 584.4 589.4">2.59</text>
<text class="n" y="262.2" x="567.9 577.5 587.1 596.8">美国信用</text><text y="274.3" x="574.4 578.4 584.4 589.4">2.42</text>
<text class="m" y="286.3" x="569.9 574.9 579.9 584.9 589.9 594.9">MSCIem</text><text y="298.4" x="574.4 578.4 584.4 589.4">2.18</text>
<text class="n" y="310.4" x="577.5 587.1">纳指</text><text y="322.6" x="574.4 578.4 584.4 589.4">2.15</text>
<text class="n" y="334.6" x="577.5 587.1">布油</text><text y="346.7" x="574.4 578.4 584.4 589.4">0.88</text>
<text class="n" y="358.7" x="577.5 587.1">国债</text><text y="370.8" x="574.4 578.4 584.4 589.4">0.06</text>
<text class="n" y="382.8" x="577.5 587.1">日股</text><text y="394.9" x="571.9 576.9 580.9 586.9 591.9">-0.42</text>
<text class="m" y="406.9" x="577.6 584.9">A股</text><text y="419.1" x="571.9 576.9 580.9 586.9 591.9">-1.95</text>
<text class="n" y="431.1" x="577.5 587.1">美元</text><text y="443.2" x="571.9 576.9 580.9 586.9 591.9">-2.96</text>
<text class="n" y="69.2" x="630.8 640.4">黄金</text><text y="81.3" x="627.7 631.7 637.7 642.7">6.71</text>
<text class="n" y="93.3" x="630.8 640.4">日债</text><text y="105.4" x="627.7 631.7 637.7 642.7">4.93</text>
<text class="n" y="117.5" x="630.8 640.4">美债</text><text y="129.6" x="627.7 631.7 637.7 642.7">4.24</text>
<text class="n" y="141.6" x="630.8 640.4">欧债</text><text y="153.7" x="627.7 631.7 637.7 642.7">3.18</text>
<text class="n" y="165.7" x="621.2 630.8 640.4 650.0">美国信用</text><text y="177.8" x="627.7 631.7 637.7 642.7">2.36</text>
<text class="n" y="189.8" x="630.8 640.4">国债</text><text y="201.9" x="627.7 631.7 637.7 642.7">0.80</text>
<text class="n5" y="213.9" x="623.3 632.9 640.2 645.2 650.2">标普500</text><text y="226.1" x="627.7 631.7 637.7 642.7">0.72</text>
<text class="m" y="238.1" x="623.1 628.1 633.1 638.1 643.1 648.1">MSCIem</text><text y="250.2" x="627.7 631.7 637.7 642.7">0.27</text>
<text class="m" y="262.2" x="630.9 638.1">A股</text><text y="274.3" x="625.2 630.2 634.2 640.2 645.2">-0.24</text>
<text class="n" y="286.3" x="630.8 640.4">欧股</text><text y="298.4" x="625.2 630.2 634.2 640.2 645.2">-0.60</text>
<text class="n" y="310.4" x="630.8 640.4">日股</text><text y="322.6" x="625.2 630.2 634.2 640.2 645.2">-0.61</text>
<text class="n" y="334.6" x="630.8 640.4">纳指</text><text y="346.7" x="625.2 630.2 634.2 640.2 645.2">-1.45</text>
<text class="n" y="358.7" x="630.8 640.4">美元</text><text y="370.8" x="625.2 630.2 634.2 640.2 645.2">-1.77</text>
<text class="n" y="382.8" x="630.8 640.4">港股</text><text y="394.9" x="625.2 630.2 634.2 640.2 645.2">-2.10</text>
<text class="n" y="406.9" x="635.6">铜</text><text y="419.1" x="625.2 630.2 634.2 640.2 645.2">-2.90</text>
<text class="n" y="431.1" x="630.8 640.4">布油</text><text y="443.2" x="625.2 630.2 634.2 640.2 645.2">-4.90</text>
<text class="n" y="69.2" x="684.1 693.8">纳指</text><text y="81.3" x="681.0 685.0 691.0 696.0">5.95</text>
<text class="n5" y="93.3" x="676.6 686.2 693.6 698.6 703.6">标普500</text><text y="105.4" x="681.0 685.0 691.0 696.0">4.30</text>
<text class="n" y="117.5" x="684.1 693.8">日股</text><text y="129.6" x="681.0 685.0 691.0 696.0">4.02</text>
<text class="n" y="141.6" x="684.1 693.8">布油</text><text y="153.7" x="681.0 685.0 691.0 696.0">3.62</text>
<text class="m" y="165.7" x="676.5 681.5 686.5 691.5 696.5 701.5">MSCIem</text><text y="177.8" x="681.0 685.0 691.0 696.0">2.66</text>
<text class="n" y="189.8" x="684.1 693.8">美债</text><text y="201.9" x="681.0 685.0 691.0 696.0">2.44</text>
<text class="n" y="213.9" x="674.5 684.1 693.8 703.4">美国信用</text><text y="226.1" x="681.0 685.0 691.0 696.0">1.06</text>
<text class="n" y="238.1" x="684.1 693.8">美元</text><text y="250.2" x="681.0 685.0 691.0 696.0">1.04</text>
<text class="n" y="262.2" x="684.1 693.8">国债</text><text y="274.3" x="681.0 685.0 691.0 696.0">0.84</text>
<text class="n" y="286.3" x="684.1 693.8">欧债</text><text y="298.4" x="678.5 683.5 687.5 693.5 698.5">-0.38</text>
<text class="n" y="310.4" x="684.1 693.8">黄金</text><text y="322.6" x="678.5 683.5 687.5 693.5 698.5">-1.25</text>
<text class="n" y="334.6" x="684.1 693.8">欧股</text><text y="346.7" x="678.5 683.5 687.5 693.5 698.5">-1.77</text>
<text class="n" y="358.7" x="684.1 693.8">日债</text><text y="370.8" x="678.5 683.5 687.5 693.5 698.5">-2.42</text>
<text class="n" y="382.8" x="684.1 693.8">港股</text><text y="394.9" x="678.5 683.5 687.5 693.5 698.5">-2.81</text>
<text class="m" y="406.9" x="684.2 691.5">A股</text><text y="419.1" x="678.5 683.5 687.5 693.5 698.5">-4.02</text>
<text class="n" y="431.1" x="689.0">铜</text><text y="443.2" x="678.5 683.5 687.5 693.5 698.5">-5.42</text>
<text class="n" y="69.2" x="737.4 747.0">纳指</text><text y="81.3" x="734.3 738.3 744.3 749.3">4.70</text>
<text class="n5" y="93.3" x="729.9 739.5 746.9 751.9 756.9">标普500</text><text y="105.4" x="734.3 738.3 744.3 749.3">3.15</text>
<text class="n" y="117.5" x="737.4 747.0">美债</text><text y="129.6" x="734.3 738.3 744.3 749.3">2.07</text>
<text class="n" y="141.6" x="737.4 747.0">港股</text><text y="153.7" x="734.3 738.3 744.3 749.3">1.87</text>
<text class="n" y="165.7" x="737.4 747.0">日股</text><text y="177.8" x="734.3 738.3 744.3 749.3">1.46</text>
<text class="n" y="189.8" x="727.8 737.4 747.0 756.6">美国信用</text><text y="201.9" x="734.3 738.3 744.3 749.3">1.45</text>
<text class="n" y="213.9" x="737.4 747.0">欧债</text><text y="226.1" x="734.3 738.3 744.3 749.3">1.34</text>
<text class="n" y="238.1" x="737.4 747.0">国债</text><text y="250.2" x="734.3 738.3 744.3 749.3">0.36</text>
<text class="n" y="262.2" x="737.4 747.0">欧股</text><text y="274.3" x="734.3 738.3 744.3 749.3">0.05</text>
<text class="m" y="286.3" x="729.8 734.8 739.8 744.8 749.8 754.8">MSCIem</text><text y="298.4" x="731.8 736.8 740.8 746.8 751.8">-0.23</text>
<text class="n" y="310.4" x="737.4 747.0">黄金</text><text y="322.6" x="731.8 736.8 740.8 746.8 751.8">-0.42</text>
<text class="n" y="334.6" x="742.2">铜</text><text y="346.7" x="731.8 736.8 740.8 746.8 751.8">-0.66</text>
<text class="m" y="358.7" x="737.5 744.8">A股</text><text y="370.8" x="731.8 736.8 740.8 746.8 751.8">-0.84</text>
<text class="n" y="382.8" x="737.4 747.0">日债</text><text y="394.9" x="731.8 736.8 740.8 746.8 751.8">-0.92</text>
<text class="n" y="406.9" x="737.4 747.0">美元</text><text y="419.1" x="731.8 736.8 740.8 746.8 751.8">-0.97</text>
<text class="n" y="431.1" x="737.4 747.0">布油</text><text y="443.2" x="731.8 736.8 740.8 746.8 751.8">-6.69</text>
<text class="n" y="69.2" x="795.5">铜</text><text y="81.3" x="785.1 790.1 794.1 800.1 805.1">12.51</text>
<text class="n" y="93.3" x="790.7 800.3">港股</text><text y="105.4" x="787.6 791.6 797.6 802.6">7.39</text>
<text class="m" y="117.5" x="790.8 798.0">A股</text><text y="129.6" x="787.6 791.6 797.6 802.6">3.13</text>
<text class="n" y="141.6" x="790.7 800.3">黄金</text><text y="153.7" x="787.6 791.6 797.6 802.6">2.63</text>
<text class="n" y="165.7" x="790.7 800.3">美元</text><text y="177.8" x="787.6 791.6 797.6 802.6">1.72</text>
<text class="m" y="189.8" x="783.0 788.0 793.0 798.0 803.0 808.0">MSCIem</text><text y="201.9" x="787.6 791.6 797.6 802.6">0.53</text>
<text class="n" y="213.9" x="790.7 800.3">国债</text><text y="226.1" x="787.6 791.6 797.6 802.6">0.22</text>
<text class="n" y="238.1" x="790.7 800.3">布油</text><text y="250.2" x="785.1 790.1 794.1 800.1 805.1">-1.24</text>
<text class="n" y="262.2" x="781.1 790.7 800.3 809.9">美国信用</text><text y="274.3" x="785.1 790.1 794.1 800.1 805.1">-1.73</text>
<text class="n" y="286.3" x="790.7 800.3">欧债</text><text y="298.4" x="785.1 790.1 794.1 800.1 805.1">-2.18</text>
<text class="n" y="310.4" x="790.7 800.3">欧股</text><text y="322.6" x="785.1 790.1 794.1 800.1 805.1">-3.19</text>
<text class="n5" y="334.6" x="783.2 792.8 800.1 805.1 810.1">标普500</text><text y="346.7" x="785.1 790.1 794.1 800.1 805.1">-4.16</text>
<text class="n" y="358.7" x="790.7 800.3">美债</text><text y="370.8" x="785.1 790.1 794.1 800.1 805.1">-4.24</text>
<text class="n" y="382.8" x="790.7 800.3">日股</text><text y="394.9" x="785.1 790.1 794.1 800.1 805.1">-4.39</text>
<text class="n" y="406.9" x="790.7 800.3">纳指</text><text y="419.1" x="785.1 790.1 794.1 800.1 805.1">-4.41</text>
<text class="n" y="431.1" x="790.7 800.3">日债</text><text y="443.2" x="785.1 790.1 794.1 800.1 805.1">-4.50</text>
<text class="n" y="69.2" x="844.0 853.6">黄金</text><text y="81.3" x="838.4 843.4 847.4 853.4 858.4">10.38</text>
<text class="n" y="93.3" x="844.0 853.6">布油</text><text y="105.4" x="840.9 844.9 850.9 855.9">5.99</text>
<text class="n" y="117.5" x="848.9">铜</text><text y="129.6" x="840.9 844.9 850.9 855.9">5.01</text>
<text class="n" y="141.6" x="844.0 853.6">欧股</text><text y="153.7" x="840.9 844.9 850.9 855.9">4.09</text>
<text class="n5" y="165.7" x="836.5 846.1 853.5 858.5 863.5">标普500</text><text y="177.8" x="840.9 844.9 850.9 855.9">3.64</text>
<text class="n" y="189.8" x="844.0 853.6">日股</text><text y="201.9" x="840.9 844.9 850.9 855.9">2.96</text>
<text class="m" y="213.9" x="844.1 851.4">A股</text><text y="226.1" x="840.9 844.9 850.9 855.9">2.82</text>
<text class="n" y="238.1" x="844.0 853.6">纳指</text><text y="250.2" x="840.9 844.9 850.9 855.9">2.71</text>
<text class="m" y="262.2" x="836.4 841.4 846.4 851.4 856.4 861.4">MSCIem</text><text y="274.3" x="840.9 844.9 850.9 855.9">2.40</text>
<text class="n" y="286.3" x="834.4 844.0 853.6 863.2">美国信用</text><text y="298.4" x="840.9 844.9 850.9 855.9">1.29</text>
<text class="n" y="310.4" x="844.0 853.6">美债</text><text y="322.6" x="840.9 844.9 850.9 855.9">1.23</text>
<text class="n" y="334.6" x="844.0 853.6">欧债</text><text y="346.7" x="840.9 844.9 850.9 855.9">0.91</text>
<text class="n" y="358.7" x="844.0 853.6">美元</text><text y="370.8" x="840.9 844.9 850.9 855.9">0.55</text>
<text class="n" y="382.8" x="844.0 853.6">国债</text><text y="394.9" x="840.9 844.9 850.9 855.9">0.09</text>
<text class="n" y="406.9" x="844.0 853.6">港股</text><text y="419.1" x="840.9 844.9 850.9 855.9">0.03</text>
<text class="n" y="431.1" x="844.0 853.6">日债</text><text y="443.2" x="838.4 843.4 847.4 853.4 858.4">-1.15</text>
<text class="n" y="69.2" x="897.3 906.9">日股</text><text y="81.3" x="894.2 898.2 904.2 909.2">8.60</text>
<text class="m" y="93.3" x="897.4 904.6">A股</text><text y="105.4" x="894.2 898.2 904.2 909.2">6.52</text>
<text class="n" y="117.5" x="897.3 906.9">港股</text><text y="129.6" x="894.2 898.2 904.2 909.2">5.15</text>
<text class="n" y="141.6" x="897.3 906.9">欧股</text><text y="153.7" x="894.2 898.2 904.2 909.2">4.61</text>
<text class="m" y="165.7" x="889.6 894.6 899.6 904.6 909.6 914.6">MSCIem</text><text y="177.8" x="894.2 898.2 904.2 909.2">4.12</text>
<text class="n" y="189.8" x="897.3 906.9">纳指</text><text y="201.9" x="894.2 898.2 904.2 909.2">3.75</text>
<text class="n5" y="213.9" x="889.8 899.4 906.8 911.8 916.8">标普500</text><text y="226.1" x="894.2 898.2 904.2 909.2">3.48</text>
<text class="n" y="238.1" x="897.3 906.9">国债</text><text y="250.2" x="894.2 898.2 904.2 909.2">0.94</text>
<text class="n" y="262.2" x="897.3 906.9">美元</text><text y="274.3" x="894.2 898.2 904.2 909.2">0.71</text>
<text class="n" y="286.3" x="897.3 906.9">黄金</text><text y="298.4" x="894.2 898.2 904.2 909.2">0.09</text>
<text class="n" y="310.4" x="897.3 906.9">欧债</text><text y="322.6" x="891.7 896.7 900.7 906.7 911.7">-0.53</text>
<text class="n" y="334.6" x="897.3 906.9">布油</text><text y="346.7" x="891.7 896.7 900.7 906.7 911.7">-0.58</text>
<text class="n" y="358.7" x="897.3 906.9">美债</text><text y="370.8" x="891.7 896.7 900.7 906.7 911.7">-0.61</text>
<text class="n" y="382.8" x="897.3 906.9">日债</text><text y="394.9" x="891.7 896.7 900.7 906.7 911.7">-0.98</text>
<text class="n" y="406.9" x="887.7 897.3 906.9 916.5">美国信用</text><text y="419.1" x="891.7 896.7 900.7 906.7 911.7">-1.01</text>
<text class="n" y="431.1" x="902.1">铜</text><text y="443.2" x="891.7 896.7 900.7 906.7 911.7">-1.58</text>
<text class="n" y="69.2" x="950.6 960.2">日股</text><text y="81.3" x="947.5 951.5 957.5 962.5">8.19</text>
<text class="n" y="93.3" x="950.6 960.2">布油</text><text y="105.4" x="947.5 951.5 957.5 962.5">4.59</text>
<text class="n" y="117.5" x="950.6 960.2">欧股</text><text y="129.6" x="947.5 951.5 957.5 962.5">2.97</text>
<text class="n" y="141.6" x="950.6 960.2">美元</text><text y="153.7" x="947.5 951.5 957.5 962.5">2.25</text>
<text class="n5" y="165.7" x="943.1 952.8 960.1 965.1 970.1">标普500</text><text y="177.8" x="947.5 951.5 957.5 962.5">1.30</text>
<text class="n" y="189.8" x="950.6 960.2">国债</text><text y="201.9" x="947.5 951.5 957.5 962.5">1.22</text>
<text class="n" y="213.9" x="950.6 960.2">纳指</text><text y="226.1" x="947.5 951.5 957.5 962.5">0.46</text>
<text class="n" y="238.1" x="941.0 950.6 960.2 969.9">美国信用</text><text y="250.2" x="947.5 951.5 957.5 962.5">0.10</text>
<text class="n" y="262.2" x="955.5">铜</text><text y="274.3" x="945.0 950.0 954.0 960.0 965.0">-0.10</text>
<text class="n" y="286.3" x="950.6 960.2">黄金</text><text y="298.4" x="945.0 950.0 954.0 960.0 965.0">-1.24</text>
<text class="n" y="310.4" x="950.6 960.2">欧债</text><text y="322.6" x="945.0 950.0 954.0 960.0 965.0">-2.01</text>
<text class="n" y="334.6" x="950.6 960.2">美债</text><text y="346.7" x="945.0 950.0 954.0 960.0 965.0">-2.24</text>
<text class="n" y="358.7" x="950.6 960.2">日债</text><text y="370.8" x="945.0 950.0 954.0 960.0 965.0">-4.42</text>
<text class="m" y="382.8" x="943.0 948.0 953.0 958.0 963.0 968.0">MSCIem</text><text y="394.9" x="945.0 950.0 954.0 960.0 965.0">-4.60</text>
<text class="m" y="406.9" x="950.7 958.0">A股</text><text y="419.1" x="945.0 950.0 954.0 960.0 965.0">-5.62</text>
<text class="n" y="431.1" x="950.6 960.2">港股</text><text y="443.2" x="945.0 950.0 954.0 960.0 965.0">-9.14</text>
</svg>
<div id="src">数据来源：Wind，东方证券研究所</div>
</body></html>
